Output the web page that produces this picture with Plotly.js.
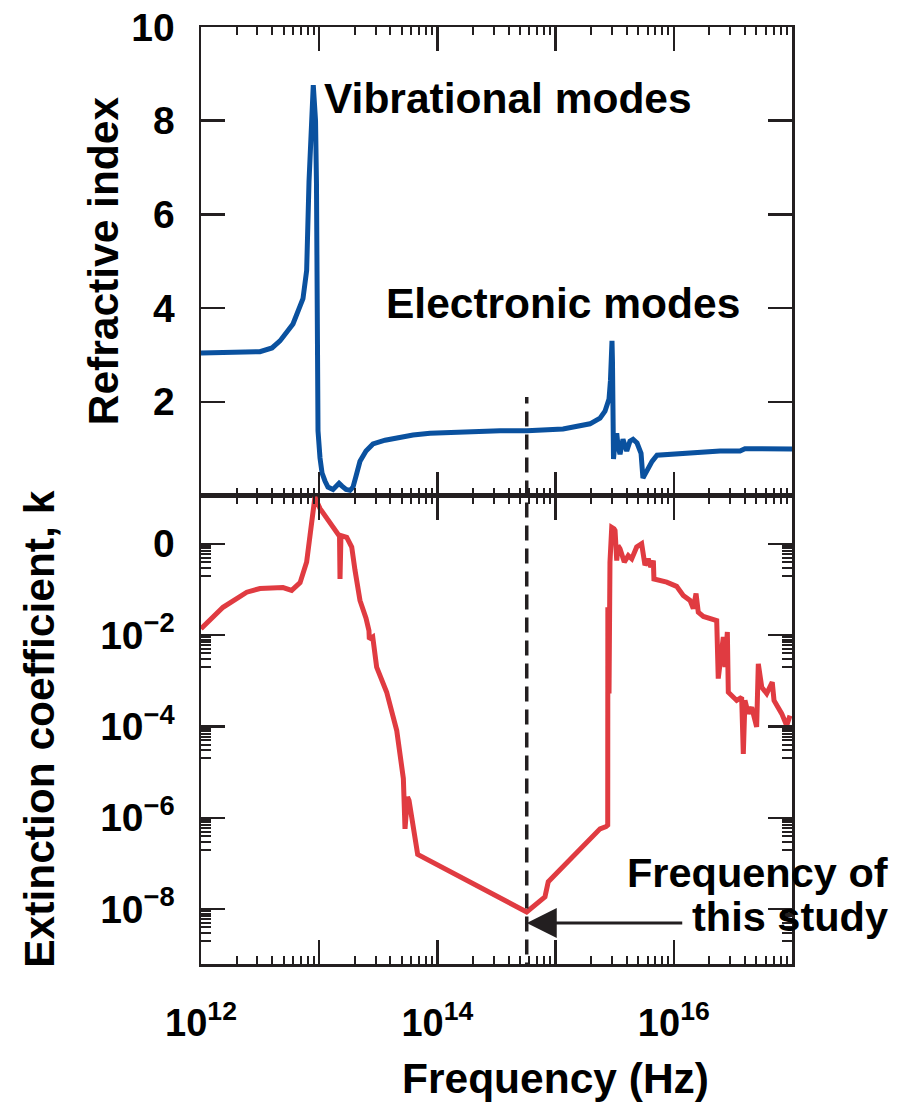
<!DOCTYPE html>
<html>
<head>
<meta charset="utf-8">
<script src="https://cdn.plot.ly/plotly-3.0.1.min.js"></script>
<style>
  html, body { margin: 0; padding: 0; background: #fff; }
  #chart { width: 899px; height: 1102px; }
</style>
</head>
<body>
<div id="chart"></div>
<script>
// ---------------- data ----------------
// Refractive index n versus frequency (Hz)
const FREQ_N = [
  1.0e12, 2.14e12, 3.15e12, 3.99e12, 4.66e12, 6.0e12, 6.89e12, 7.29e12, 7.83e12, 8.20e12,
  8.91e12, 9.31e12, 9.48e12, 9.77e12, 1.016e13, 1.057e13, 1.119e13, 1.186e13, 1.309e13, 1.416e13,
  1.472e13, 1.560e13, 1.687e13, 1.824e13, 1.932e13, 2.046e13, 2.213e13, 2.489e13, 2.851e13, 3.606e13,
  4.55e13, 6.22e13, 8.65e13, 1.648e14, 3.39e14, 5.73e14, 1.156e15, 1.954e15, 2.377e15, 2.618e15,
  2.831e15, 2.911e15, 2.972e15, 3.0e15, 3.027e15, 3.062e15, 3.09e15, 3.184e15, 3.289e15, 3.373e15,
  3.508e15, 3.715e15, 4.0e15, 4.256e15, 4.519e15, 4.887e15, 5.284e15, 5.483e15, 5.902e15, 6.546e15,
  7.211e15, 1.127e16, 2.46e16, 3.63e16, 4.0e16, 1.0e17
];
const N_VALUES = [
  3.04, 3.05, 3.07, 3.15, 3.30, 3.66, 4.00, 4.20, 4.80, 6.70,
  8.76, 8.00, 6.70, 1.38, 0.80, 0.48, 0.31, 0.18, 0.13, 0.22,
  0.26, 0.20, 0.13, 0.11, 0.18, 0.41, 0.73, 0.95, 1.10, 1.18,
  1.23, 1.29, 1.33, 1.36, 1.38, 1.38, 1.42, 1.53, 1.65, 1.80,
  2.06, 2.45, 3.20, 3.30, 2.88, 2.02, 0.78, 1.16, 1.33, 1.06,
  0.88, 1.20, 0.95, 1.16, 1.20, 1.12, 0.90, 0.37, 0.52, 0.73,
  0.86, 0.90, 0.95, 0.95, 1.00, 0.99
];

// Extinction coefficient k versus frequency (Hz)
const FREQ_K = [
  1.0e12, 1.535e12, 2.438e12, 3.155e12, 4.94e12, 5.85e12, 6.89e12, 7.83e12, 8.36e12, 9.20e12,
  1.016e13, 1.186e13, 1.406e13, 1.486e13, 1.500e13, 1.528e13, 1.710e13, 1.884e13, 2.009e13, 2.213e13,
  2.489e13, 2.636e13, 2.655e13, 2.838e13, 3.062e13, 3.724e13, 4.529e13, 5.152e13, 5.321e13, 5.585e13,
  5.754e13, 6.808e13, 5.689e14, 8.128e14, 8.670e14, 2.377e15, 2.673e15, 2.761e15, 2.767e15, 2.831e15,
  2.884e15, 2.985e15, 3.119e15, 3.184e15, 3.289e15, 3.373e15, 3.508e15, 3.648e15, 3.811e15, 4.121e15,
  4.406e15, 4.853e15, 5.346e15, 5.702e15, 6.081e15, 6.383e15, 6.714e15, 6.792e15, 8.710e15, 1.057e16,
  1.202e16, 1.371e16, 1.462e16, 1.542e16, 1.611e16, 1.778e16, 2.307e16, 2.377e16, 2.624e16, 2.710e16,
  2.838e16, 2.891e16, 3.404e16, 3.750e16, 3.873e16, 4.000e16, 4.266e16, 4.560e16, 5.023e16, 5.188e16,
  5.546e16, 6.109e16, 6.808e16, 7.047e16, 8.185e16, 9.016e16, 9.616e16
];
const K_VALUES = [
  1.38e-2, 4.07e-2, 8.71e-2, 0.105, 0.110, 0.0955, 0.141, 0.398, 1.51, 10.5,
  5.89, 3.24, 1.78, 1.45, 0.170, 1.51, 1.38, 0.851, 0.263, 0.0575,
  0.0234, 0.0126, 8.13e-3, 9.12e-3, 2.0e-3, 5.62e-4, 8.13e-5, 7.24e-6, 5.75e-7, 2.88e-6,
  2.40e-6, 1.58e-7, 8.7e-9, 1.86e-8, 3.98e-8, 5.75e-7, 6.46e-7, 6.92e-7, 4.07e-2, 5.25e-4,
  0.398, 2.29, 2.14, 1.95, 0.427, 0.912, 0.776, 0.550, 0.398, 0.550,
  0.468, 0.851, 1.0, 0.339, 0.468, 0.309, 0.427, 0.170, 0.145, 0.117,
  0.0741, 0.0575, 0.0380, 0.0813, 0.0316, 0.0257, 0.0209, 1.12e-3, 9.12e-3, 2.0e-3,
  0.0117, 5.62e-4, 3.72e-4, 4.37e-4, 2.51e-5, 3.72e-4, 1.91e-4, 2.63e-4, 9.77e-5, 2.34e-3,
  7.24e-4, 5.25e-4, 9.33e-4, 3.72e-4, 1.91e-4, 1.05e-4, 1.74e-4
];

// Tick values / labels
const X_TICK_VALS = [1e12, 1e13, 1e14, 1e15, 1e16, 1e17];
const X_TICK_TEXT = ['10<sup>12</sup>', '', '10<sup>14</sup>', '', '10<sup>16</sup>', ''];
const N_TICK_VALS = [2, 4, 6, 8, 10];
const N_TICK_TEXT = ['2', '4', '6', '8', '10'];
const K_TICK_VALS = [1, 1e-2, 1e-4, 1e-6, 1e-8];
const K_TICK_TEXT = ['0', '10<sup>\u22122</sup>', '10<sup>\u22124</sup>', '10<sup>\u22126</sup>', '10<sup>\u22128</sup>'];

// Frequency of this study, extent of its marker line, arrow tip k
const FREQ_STUDY = 5.7e14;
const STUDY_LINE_N = [0, 2.1];
const STUDY_LINE_K = [1e-10, 100];
const ARROW_K = 5e-9;

// ---------------- styling ----------------
const FONT = 'Liberation Sans, Arial, Helvetica, sans-serif';
const INK = '#231f20';
const BLUE = '#0a519f';
const RED = '#e03b41';
const TITLE_FONT = { family: FONT, size: 42.5, weight: 'bold', color: '#000' };
const NOTE_FONT = { family: FONT, size: 41.5, weight: 'bold', color: '#000' };
const TICK_FONT = { family: FONT, size: 39, weight: 'bold', color: '#000' };

// minor tick positions (2..9 within each decade on x; the decade below each labelled k tick)
const xMinor = [];
for (let d = 12; d < 17; d++) for (let m = 2; m <= 9; m++) xMinor.push(m * Math.pow(10, d));
const kMinor = [];
K_TICK_VALS.forEach(v => { for (let m = 2; m <= 9; m++) kMinor.push(m * v / 10); });

const xCommon = {
  type: 'log', range: [12, 17],
  showline: true, linewidth: 2.5, linecolor: INK, mirror: 'ticks',
  ticks: 'inside', ticklen: 24, tickwidth: 2.5, tickcolor: INK,
  tickmode: 'array', tickvals: X_TICK_VALS, ticktext: X_TICK_TEXT,
  minor: { tickmode: 'array', tickvals: xMinor, ticks: 'inside', ticklen: 8, tickwidth: 2, tickcolor: INK, showgrid: false },
  showgrid: false, zeroline: false, fixedrange: true
};

const dashStyle = { color: INK, width: 3.5, dash: '15px,8px' };

const traces = [
  { x: FREQ_N, y: N_VALUES, xaxis: 'x', yaxis: 'y', type: 'scatter', mode: 'lines',
    line: { color: BLUE, width: 5 }, hoverinfo: 'skip', showlegend: false },
  { x: FREQ_K, y: K_VALUES, xaxis: 'x2', yaxis: 'y2', type: 'scatter', mode: 'lines',
    line: { color: RED, width: 5 }, hoverinfo: 'skip', showlegend: false },
  { x: [FREQ_STUDY, FREQ_STUDY], y: STUDY_LINE_N, xaxis: 'x', yaxis: 'y', type: 'scatter', mode: 'lines',
    line: dashStyle, hoverinfo: 'skip', showlegend: false },
  { x: [FREQ_STUDY, FREQ_STUDY], y: STUDY_LINE_K, xaxis: 'x2', yaxis: 'y2', type: 'scatter', mode: 'lines',
    line: dashStyle, hoverinfo: 'skip', showlegend: false }
];

const layout = {
  width: 899, height: 1102,
  margin: { l: 201, r: 107, t: 27, b: 138 },
  paper_bgcolor: '#fff', plot_bgcolor: '#fff',
  font: { family: FONT, size: 38, color: '#000', weight: 'bold' },
  showlegend: false,
  xaxis: Object.assign({}, xCommon, { anchor: 'y', showticklabels: false }),
  xaxis2: Object.assign({}, xCommon, { anchor: 'y2', showticklabels: true,
    tickfont: { family: FONT, size: 38, weight: 'bold', color: '#000' }, ticklabelstandoff: 24 }),
  yaxis: {
    domain: [0.5, 1], range: [0, 10], anchor: 'x',
    showline: true, linewidth: 2.5, linecolor: INK, mirror: 'ticks',
    ticks: 'inside', ticklen: 24, tickwidth: 2.5, tickcolor: INK,
    tickmode: 'array', tickvals: N_TICK_VALS, ticktext: N_TICK_TEXT,
    tickfont: TICK_FONT, ticklabelstandoff: 16,
    showgrid: false, zeroline: false, fixedrange: true
  },
  yaxis2: {
    domain: [0, 0.5], type: 'log', range: [-9.2, 1.057], anchor: 'x2',
    showline: true, linewidth: 2.5, linecolor: INK, mirror: 'ticks',
    ticks: 'inside', ticklen: 24, tickwidth: 2.5, tickcolor: INK,
    tickmode: 'array', tickvals: K_TICK_VALS, ticktext: K_TICK_TEXT,
    minor: { tickmode: 'array', tickvals: kMinor, ticks: 'inside', ticklen: 10, tickwidth: 2, tickcolor: INK, showgrid: false },
    tickfont: TICK_FONT, ticklabelstandoff: 16,
    showgrid: false, zeroline: false, fixedrange: true
  },
  annotations: [
    { text: 'Vibrational modes', xref: 'paper', yref: 'paper', x: 0.2047, y: 0.9242,
      xanchor: 'left', yanchor: 'middle', showarrow: false, font: TITLE_FONT },
    { text: 'Electronic modes', xref: 'paper', yref: 'paper', x: 0.3096, y: 0.7044,
      xanchor: 'left', yanchor: 'middle', showarrow: false, font: TITLE_FONT },
    { text: 'Frequency of', xref: 'paper', yref: 'paper', x: 1.1658, y: 0.0977,
      xanchor: 'right', yanchor: 'middle', showarrow: false, font: NOTE_FONT },
    { text: 'this study', xref: 'paper', yref: 'paper', x: 1.1658, y: 0.0502,
      xanchor: 'right', yanchor: 'middle', showarrow: false, font: NOTE_FONT },
    { text: 'Refractive index', xref: 'paper', yref: 'paper', x: (103 - 201) / 591, y: 0.75,
      xanchor: 'center', yanchor: 'middle', textangle: -90, showarrow: false, font: TITLE_FONT },
    { text: 'Extinction coefficient, k', xref: 'paper', yref: 'paper', x: (40 - 201) / 591, y: 0.25,
      xanchor: 'center', yanchor: 'middle', textangle: -90, showarrow: false, font: TITLE_FONT },
    { text: 'Frequency (Hz)', xref: 'paper', yref: 'paper', x: 0.5998, y: -0.1217,
      xanchor: 'center', yanchor: 'middle', showarrow: false, font: TITLE_FONT },
    { text: '', xref: 'x2', yref: 'y2', x: Math.log10(FREQ_STUDY), y: Math.log10(ARROW_K),
      axref: 'pixel', ayref: 'pixel', ax: 157, ay: 0, showarrow: true,
      arrowhead: 2, arrowsize: 2, arrowwidth: 3, arrowcolor: INK, standoff: 0 }
  ]
};

Plotly.newPlot('chart', traces, layout, { staticPlot: true, displayModeBar: false });
</script>
</body>
</html>
